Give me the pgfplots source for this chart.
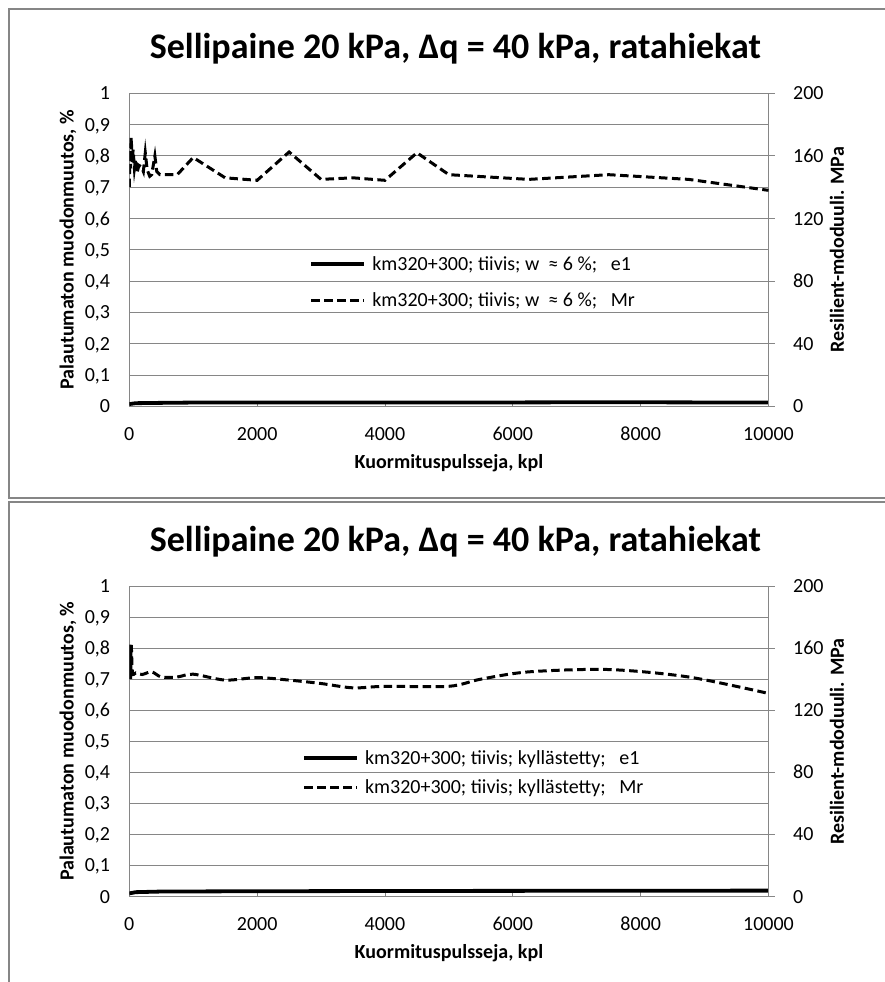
\documentclass[border=0pt]{standalone}
\usepackage{pgfplots}
\pgfplotsset{compat=1.18}
\usepackage{fontspec}
\setmainfont{Carlito}
\definecolor{gridgray}{RGB}{134,134,134}

\pgfplotstableread{
x y
0 0.007
100 0.010
500 0.011
1000 0.012
3000 0.012
5000 0.012
7500 0.013
10000 0.012
}\eA
\pgfplotstableread{
x y
0 140
10 168
20 152
30 172
45 156
60 164
80 152
100 158
120 149
150 154
190 153
220 150
250 162
280 151
320 147
350 148
400 160
430 150
480 148
750 148
1000 159
1500 146
2000 144.4
2500 162.5
3000 145
3500 146
4000 144.4
4500 162
5000 148
6250 145
7500 148
8750 145
10000 138
}\mA
\pgfplotstableread{
x y
0 0.010
100 0.014
500 0.016
2000 0.017
5000 0.018
10000 0.019
}\eB
\pgfplotstableread{
x y
0 140
10 163
20 140
30 162
50 144
100 144
200 143
350 144.7
500 141.4
750 141.4
1000 143.2
1500 139.4
2000 141
2500 139.4
3000 137.2
3500 134.4
4000 135.4
5000 135.4
5500 140
6250 144.7
7500 146.2
8750 141.4
10000 130.8
}\mB

\pgfplotsset{
  common/.style={
    scale only axis, width=639.2pt,
    xmin=0, xmax=10000,
    every axis label/.append style={font=\fontsize{20}{24}\selectfont\bfseries},
    tick label style={font=\fontsize{20}{24}\selectfont},
    /pgf/number format/assume math mode=true,
    /pgf/number format/1000 sep={},
    scaled x ticks=false,
  },
  leftax/.style={
    common,
    ymin=0, ymax=1,
    ytick={0,0.1,...,1.01},
    yticklabel style={/pgf/number format/use comma, /pgf/number format/fixed, /pgf/number format/precision=1},
    xticklabel style={/pgf/number format/fixed},
    xtick={0,2000,...,10000},
    axis x line*=bottom, axis y line*=left,
    axis line style={gridgray, line width=0.9pt},
    ymajorgrids, grid style={gridgray, line width=0.9pt},
    ytick style={draw=none},
    xtick style={gridgray, line width=0.9pt},
    tick align=inside, major tick length=5pt,
    yticklabel style={anchor=base east, inner sep=0pt, xshift=-19pt, yshift=-6.5pt},
    xticklabel style={anchor=base, inner sep=0pt, yshift=-33.7pt},
    title style={font=\fontsize{36}{42}\selectfont\bfseries, anchor=center},
    legend style={draw=none, fill=none, font=\fontsize{20}{24}\selectfont,
      anchor=center, /tikz/every odd column/.append style={column sep=4pt}},
    legend cell align=left,
  },
  rightax/.style={
    common,
    ymin=0, ymax=200,
    ytick={0,40,...,200},
    axis x line=none, axis y line*=right,
    axis line style={gridgray, line width=0.9pt},
    ytick style={gridgray, line width=0.9pt},
    tick align=outside, major tick length=6pt,
    yticklabel style={anchor=base west, inner sep=0pt, xshift=18.5pt, yshift=-6.5pt},
  },
  e1line/.style={black, line width=3.8pt},
  mrline/.style={black, line width=3pt, dash pattern=on 8.5pt off 4.5pt},
  legend image code/.code={\draw[#1] (0pt,0pt) -- (53pt,0pt);},
}

\begin{document}
\begin{tikzpicture}
\useasboundingbox (0pt,0pt) rectangle (885pt,-982pt);
% ---------- top chart ----------
\begin{axis}[leftax, height=313pt, at={(129.3pt,-406.3pt)}, anchor=south west,
  title={Sellipaine 20 kPa, Δq = 40 kPa, ratahiekat},
  title style={at={(axis description cs:0.51,1.122)}},
  xlabel={Kuormituspulsseja, kpl},
  xlabel style={at={(axis description cs:0.5,-0.182)}, anchor=center},
  ylabel={Palautumaton muodonmuutos, \%},
  ylabel style={at={(axis description cs:-0.096,0.5)}, anchor=center},
  legend style={at={(axis description cs:0.538,0.3955)}, row sep=17pt}]
\addplot[e1line] table[x=x,y=y] {\eA};
\addlegendentry{km320+300; tiivis; w\ \ ≈ 6 \%;\ \ \ e1}
\addlegendimage{mrline}
\addlegendentry{km320+300; tiivis; w\ \ ≈ 6 \%;\ \ \ Mr}
\end{axis}
\begin{axis}[rightax, height=313pt, at={(129.3pt,-406.3pt)}, anchor=south west,
  ylabel={Resilient-mdoduuli. MPa},
  ylabel style={at={(axis description cs:1.107,0.5)}, anchor=center}]
\addplot[mrline] table[x=x,y=y] {\mA};
\end{axis}
% ---------- bottom chart ----------
\begin{axis}[leftax, height=310.5pt, at={(129.3pt,-896.5pt)}, anchor=south west,
  title={Sellipaine 20 kPa, Δq = 40 kPa, ratahiekat},
  title style={at={(axis description cs:0.51,1.124)}},
  xlabel={Kuormituspulsseja, kpl},
  xlabel style={at={(axis description cs:0.5,-0.183)}, anchor=center},
  ylabel={Palautumaton muodonmuutos, \%},
  ylabel style={at={(axis description cs:-0.096,0.5)}, anchor=center},
  legend style={at={(axis description cs:0.539,0.398)}, row sep=10pt}]
\addplot[e1line] table[x=x,y=y] {\eB};
\addlegendentry{km320+300; tiivis; kyllästetty;\ \ \ e1}
\addlegendimage{mrline}
\addlegendentry{km320+300; tiivis; kyllästetty;\ \ \ Mr}
\end{axis}
\begin{axis}[rightax, height=310.5pt, at={(129.3pt,-896.5pt)}, anchor=south west,
  ylabel={Resilient-mdoduuli. MPa},
  ylabel style={at={(axis description cs:1.107,0.5)}, anchor=center}]
\addplot[mrline, smooth] table[x=x,y=y] {\mB};
\end{axis}
% panel borders
\draw[gridgray, line width=1.3pt] (892pt,-9pt) -- (9pt,-9pt) -- (9pt,-498pt) -- (892pt,-498pt);
\draw[gridgray, line width=1.3pt] (892pt,-502pt) -- (9pt,-502pt) -- (9pt,-992pt);
\end{tikzpicture}
\end{document}
